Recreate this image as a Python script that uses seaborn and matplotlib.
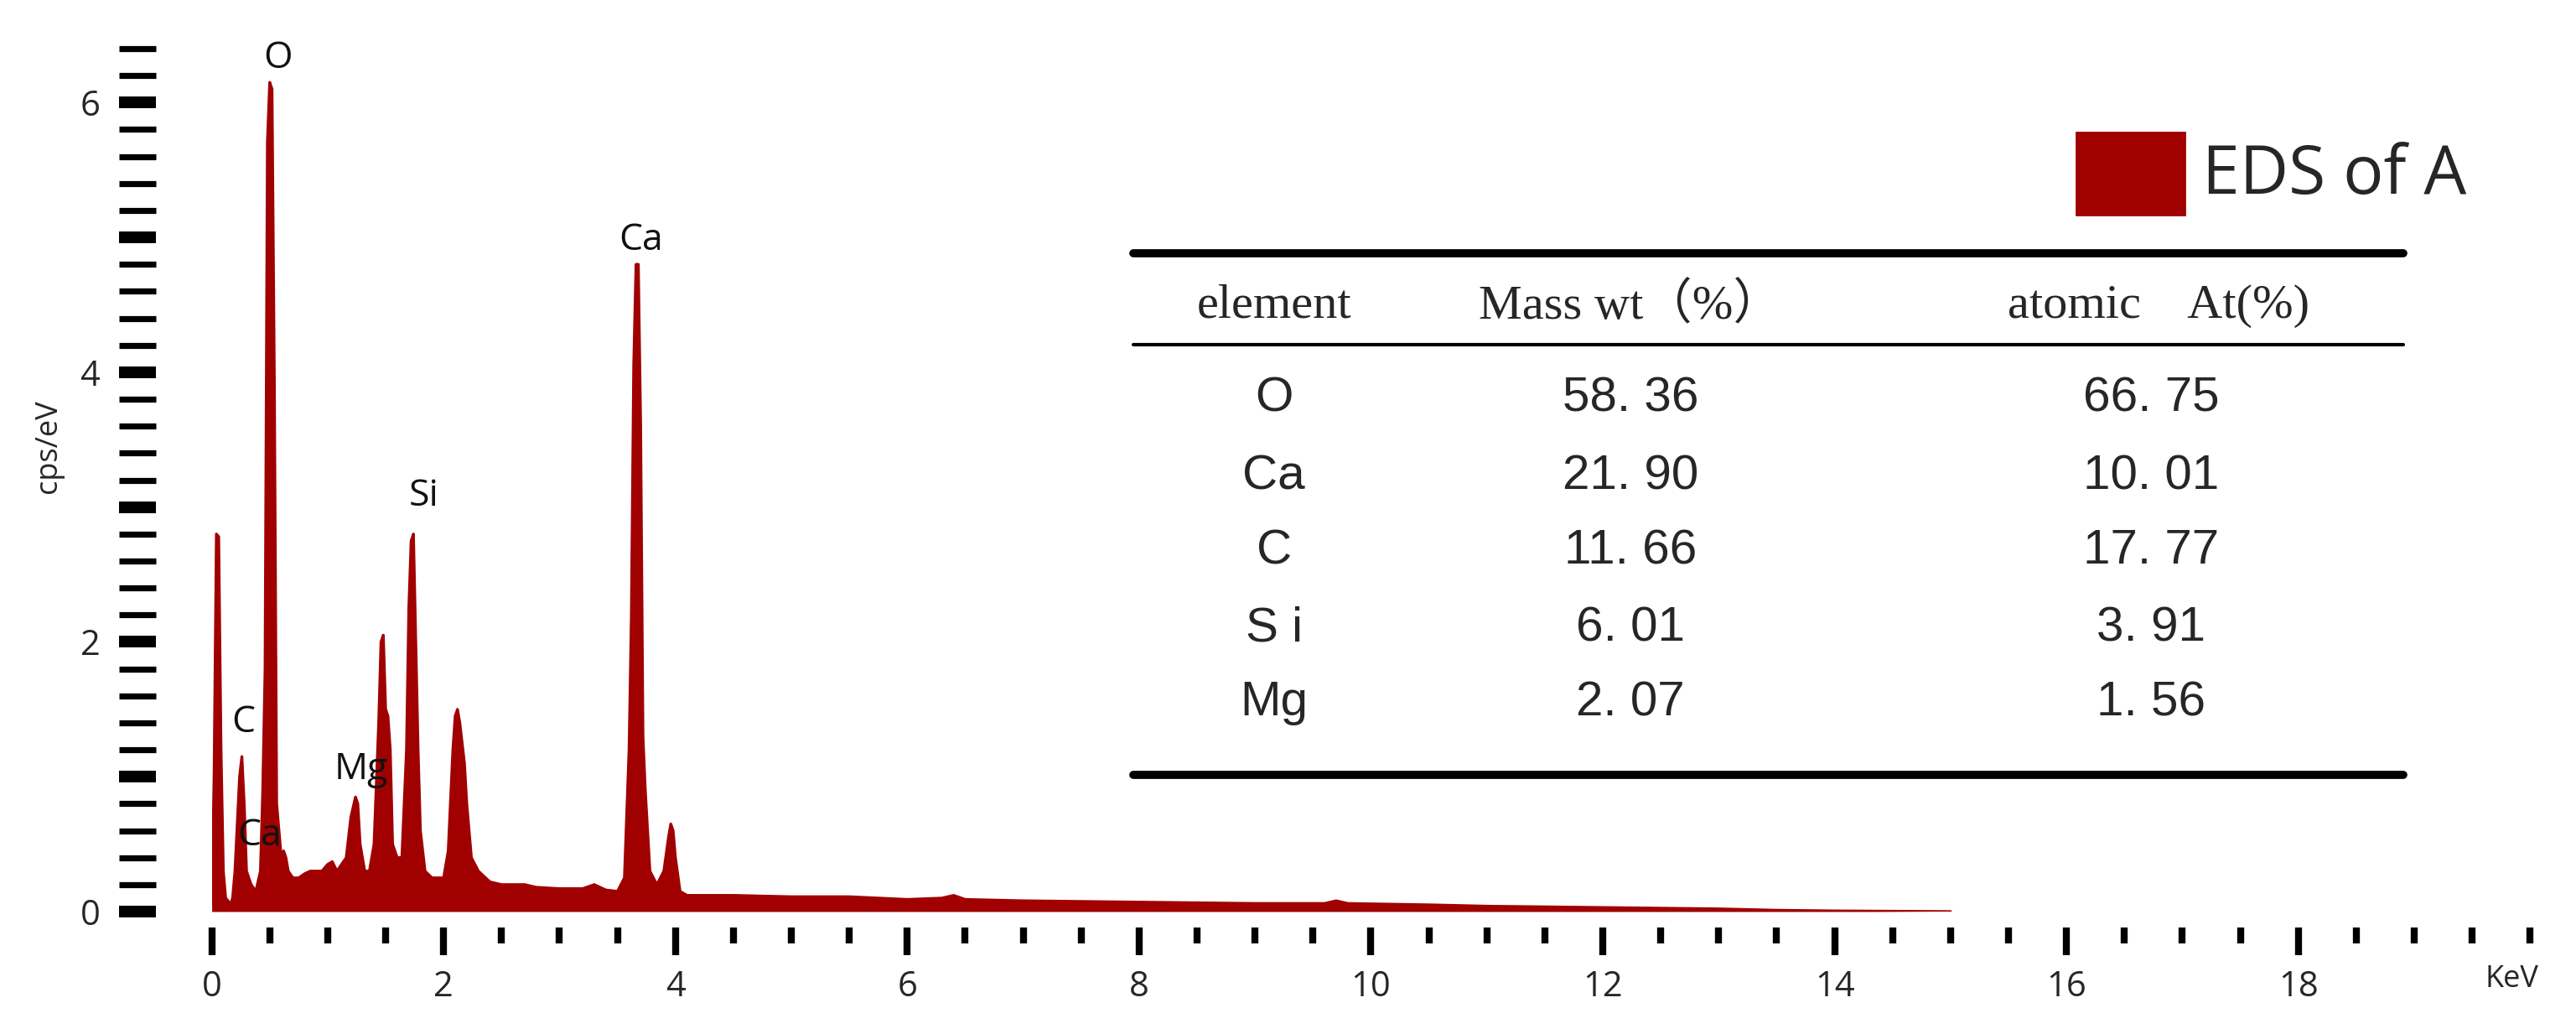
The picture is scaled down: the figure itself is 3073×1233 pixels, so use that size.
import numpy as np
import pandas as pd
import matplotlib
matplotlib.use("Agg")
import matplotlib.pyplot as plt
import seaborn as sns
from matplotlib.ticker import MultipleLocator, FixedLocator
from matplotlib.patches import Rectangle

energy = [0.00,0.02,0.04,0.06,0.08,0.10,0.12,0.14,0.16,0.18,0.20,0.24,0.26,0.28,0.30,0.34,0.38,0.42,0.44,0.46,0.48,0.50,0.52,0.54,0.56,0.58,0.60,0.62,0.64,0.66,0.70,0.75,0.80,0.85,0.90,0.95,1.00,1.04,1.08,1.12,1.16,1.20,1.24,1.26,1.28,1.32,1.36,1.40,1.44,1.46,1.48,1.50,1.52,1.54,1.56,1.60,1.64,1.68,1.70,1.72,1.74,1.76,1.78,1.80,1.84,1.90,1.96,2.00,2.04,2.08,2.10,2.12,2.14,2.18,2.20,2.24,2.30,2.40,2.50,2.60,2.70,2.80,3.00,3.20,3.30,3.40,3.50,3.56,3.60,3.62,3.64,3.66,3.68,3.70,3.72,3.74,3.78,3.84,3.90,3.94,3.96,3.98,4.00,4.04,4.10,4.50,5.00,5.50,6.00,6.30,6.40,6.50,7.00,8.00,9.00,9.60,9.70,9.80,10.50,11.00,12.00,13.00,13.50,14.00,15.00]
counts = [0.05,1.00,2.80,2.78,1.20,0.30,0.10,0.08,0.05,0.10,0.30,1.00,1.15,0.80,0.30,0.20,0.15,0.30,0.90,1.80,5.70,6.15,6.10,3.95,0.80,0.60,0.40,0.45,0.40,0.30,0.25,0.25,0.28,0.30,0.30,0.30,0.35,0.37,0.30,0.35,0.40,0.70,0.85,0.80,0.50,0.30,0.30,0.50,1.40,2.00,2.05,1.50,1.45,1.20,0.50,0.40,0.40,1.20,2.25,2.75,2.80,2.00,1.20,0.60,0.30,0.25,0.25,0.25,0.45,1.20,1.45,1.50,1.40,1.10,0.80,0.40,0.30,0.22,0.20,0.20,0.20,0.18,0.17,0.17,0.20,0.16,0.15,0.25,1.20,2.20,4.05,4.80,4.80,3.60,1.30,0.90,0.30,0.20,0.30,0.55,0.65,0.60,0.40,0.15,0.12,0.12,0.11,0.11,0.09,0.10,0.12,0.09,0.08,0.07,0.06,0.06,0.08,0.06,0.05,0.04,0.03,0.02,0.01,0.005,0.0]

peak_labels = ["O", "Ca", "Si", "C", "Ca", "Mg"]
peak_x = [0.57, 3.70, 1.83, 0.27, 0.41, 1.29]
peak_y = [6.33, 4.98, 3.08, 1.40, 0.56, 1.05]

table_header = ["element", "Mass wt\uff08%\uff09", "atomic    At(%)"]
table_elements = ["O", "Ca", "C", "S i", "Mg"]
table_mass = ["58. 36", "21. 90", "11. 66", "6. 01", "2. 07"]
table_atomic = ["66. 75", "10. 01", "17. 77", "3. 91", "1. 56"]

legend_label = "EDS of A"
red = "#A00000"

sns.set_style("white")
plt.rcParams['font.family'] = ['Open Sans', 'DejaVu Sans']

fig = plt.figure(figsize=(15.365, 6.165), dpi=200)
ax = fig.add_axes([0.0822, 0.1184, 0.9, 0.8476])
df = pd.DataFrame({"energy": energy, "counts": counts})
ax.fill_between(df["energy"], df["counts"], 0, color=red, lw=0)
sns.lineplot(data=df, x="energy", y="counts", ax=ax, color=red, lw=1.2)

ax.set_xlim(0, 20)
ax.set_ylim(0, 6.5)
for s in ax.spines.values():
    s.set_visible(False)
ax.spines['left'].set_position(('outward', 24))
ax.spines['bottom'].set_position(('outward', 7))

ax.yaxis.set_major_locator(FixedLocator([0, 1, 2, 3, 4, 5, 6]))
ax.yaxis.set_minor_locator(MultipleLocator(0.2))
ax.set_yticklabels(["0", "", "2", "", "4", "", "6"])
ax.xaxis.set_major_locator(FixedLocator([0, 2, 4, 6, 8, 10, 12, 14, 16, 18]))
ax.xaxis.set_minor_locator(MultipleLocator(0.5))
ax.tick_params(axis='y', which='major', left=True, direction='out', length=16, width=5, labelsize=15, pad=8, color='black')
ax.tick_params(axis='y', which='minor', left=True, direction='out', length=16, width=2.6, color='black')
ax.tick_params(axis='x', which='major', bottom=True, direction='out', length=12, width=3, labelsize=15, pad=6, color='black')
ax.tick_params(axis='x', which='minor', bottom=True, direction='out', length=7, width=3, color='black')
ax.set_xlabel("")
ax.set_ylabel("")

for lab, x, y in zip(peak_labels, peak_x, peak_y):
    ax.text(x, y, lab, ha='center', va='center', fontsize=16, color='#111111')

fig.text(0.019, 0.568, "cps/eV", rotation=90, ha='center', va='center', fontsize=13)
fig.text(0.975, 0.053, "KeV", ha='center', va='center', fontsize=13)

# legend
fig.patches.append(Rectangle((0.806, 0.792), 0.042, 0.080, transform=fig.transFigure, color=red))
fig.text(0.855, 0.830, legend_label, ha='left', va='center', fontsize=29)

# table
for y, lw in [(0.755, 3.5), (0.667, 1.5), (0.251, 3.5)]:
    fig.add_artist(plt.Line2D([0.44, 0.933], [y, y], transform=fig.transFigure, color='black', lw=lw))
hx = [0.4945, 0.633, 0.838]
for x, h in zip(hx, table_header):
    fig.text(x, 0.704, h, ha='center', va='center', fontsize=21, family=['Liberation Serif', 'Noto Sans CJK SC'])
rows_y = [0.614, 0.539, 0.467, 0.392, 0.32]
cols = [0.4945, 0.633, 0.835]
for i, y in enumerate(rows_y):
    for x, v in zip(cols, [table_elements[i], table_mass[i], table_atomic[i]]):
        fig.text(x, y, v, ha='center', va='center', fontsize=21, family=['Liberation Sans', 'DejaVu Sans'])

fig.savefig("out.png", dpi=200)
